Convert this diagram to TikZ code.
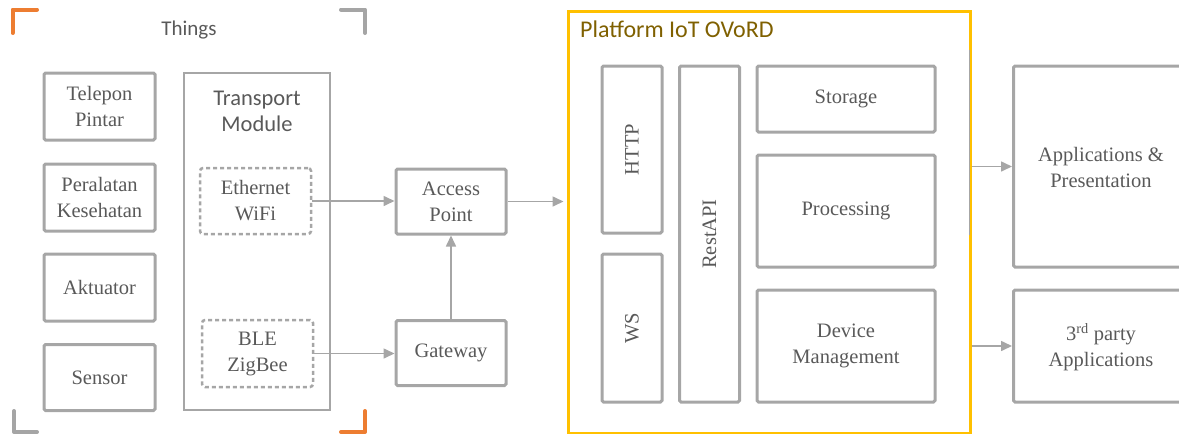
\documentclass[tikz,border=0pt]{standalone}
\usepackage{fontspec}
\setmainfont{Liberation Serif}
\newfontfamily\boxserif{Liberation Serif}
\newfontfamily\uisans{Carlito}
\usetikzlibrary{arrows.meta,calc}
\definecolor{boxgray}{HTML}{A6A6A6}
\definecolor{txtgray}{HTML}{595959}
\definecolor{cornerorange}{HTML}{ED7D31}
\definecolor{cornergray}{HTML}{A5A5A5}
\definecolor{platyellow}{HTML}{FFC000}
\definecolor{plattitle}{HTML}{7F6000}
\tikzset{
  x=1pt, y=-1pt,
  serifsize/.style={font=\boxserif\fontsize{20.5}{26}\selectfont},
  blk/.style={draw=boxgray, line width=3pt, rounded corners=1.5pt, inner sep=0pt,
    text=txtgray, serifsize, align=center},
  thinblk/.style={draw=boxgray, line width=2pt, inner sep=0pt},
  dashblk/.style={draw=boxgray, line width=2.5pt, dash pattern=on 4pt off 3pt,
    rounded corners=3pt, inner sep=0pt, text=txtgray, serifsize, align=center},
  vlabel/.style={rotate=90, text=txtgray, serifsize},
  link/.style={draw=boxgray, line width=1.6pt,
    -{Triangle[length=11pt,width=10pt]}},
  bracket/.style={line width=4pt, line cap=round, line join=round},
  sanslabel/.style={text=txtgray, font=\uisans\fontsize{21}{27}\selectfont, align=center},
}
\begin{document}
\begin{tikzpicture}
\clip (0,0) rectangle (1179,434);

% corner brackets framing the "Things" group
\draw[bracket, cornerorange] (12.5,33) -- (12.5,9.5) -- (37,9.5);
\draw[bracket, cornergray] (341,9.5) -- (365,9.5) -- (365,33);
\draw[bracket, cornergray] (14,411) -- (14,432) -- (37,432);
\draw[bracket, cornerorange] (341,432) -- (365,432) -- (365,411);
\node[sanslabel] (things) at (189,30) {Things};

% things
\node[blk, minimum width=111pt, minimum height=67pt] (phone) at (99.5,106.5) {Telepon\\Pintar};
\node[blk, minimum width=111pt, minimum height=67pt] (health) at (99.5,197.5) {Peralatan\\Kesehatan};
\node[blk, minimum width=111pt, minimum height=67pt] (act) at (99.5,287.5) {Aktuator};
\node[blk, minimum width=111pt, minimum height=66pt] (sensor) at (99.5,377.5) {Sensor};

% transport module
\node[thinblk, minimum width=146pt, minimum height=337pt] (tm) at (257,241.5) {};
\node[sanslabel, font=\uisans\fontsize{22.5}{26}\selectfont] (tmlabel) at (257,111) {Transport\\Module};
\node[dashblk, minimum width=111pt, minimum height=66pt] (eth) at (255.5,201) {Ethernet\\WiFi};
\node[dashblk, minimum width=111pt, minimum height=67pt] (ble) at (257.5,353.5) {BLE\\ZigBee};

% access network
\node[blk, minimum width=110pt, minimum height=65pt] (ap) at (451,201.5) {Access\\Point};
\node[blk, minimum width=110pt, minimum height=65pt] (gw) at (451,353) {Gateway};

% platform
\node[draw=platyellow, line width=3pt, minimum width=402pt, minimum height=422pt, inner sep=0pt]
  (plat) at (769,222) {};
\node[anchor=west, text=plattitle, font=\uisans\fontsize{24}{28}\selectfont, inner sep=0pt]
  (plattitle) at (580,29) {Platform IoT OVoRD};
\node[blk, minimum width=60pt, minimum height=167pt] (http) at (632,149.5) {};
\node[vlabel] (httplabel) at (http) {HTTP};
\node[blk, minimum width=60pt, minimum height=148pt] (ws) at (632,328) {};
\node[vlabel] (wslabel) at (ws) {WS};
\node[blk, minimum width=60pt, minimum height=336pt] (rest) at (709.5,234) {};
\node[vlabel] (restlabel) at (rest) {RestAPI};
\node[blk, minimum width=178pt, minimum height=66pt] (storage) at (846,99) {Storage};
\node[blk, minimum width=178pt, minimum height=112pt] (proc) at (846,211) {Processing};
\node[blk, minimum width=178pt, minimum height=112pt] (devm) at (846,346) {Device\\Management};

% applications
\node[blk, minimum width=180pt, minimum height=201pt, anchor=west] (apps) at (1012,166.5) {};
\node[text=txtgray, serifsize, align=center] (appslabel) at (1101,167) {Applications \&\\Presentation};
\node[blk, minimum width=180pt, minimum height=112pt, anchor=west] (third) at (1012,346) {};
\node[text=txtgray, serifsize, align=center] (thirdlabel) at (1101,347) {3\textsuperscript{rd} party\\Applications};

% connectors
\draw[link] (eth.east) -- (ap.west |- eth.east);
\draw[link] (ble.east) -- (gw.west |- ble.east);
\draw[link] (gw.north) -- (ap.south);
\coordinate (platin) at ($(plat.west |- ap.east)+(-3,0)$);
\draw[link] (ap.east) -- (platin);
\draw[draw=boxgray, line width=1.2pt] (969.5,50) -- (969.5,235);
\draw[link] (apps.west -| plat.east) -- (apps.west);
\draw[link] (third.west -| plat.east) -- (third.west);
\end{tikzpicture}
\end{document}
